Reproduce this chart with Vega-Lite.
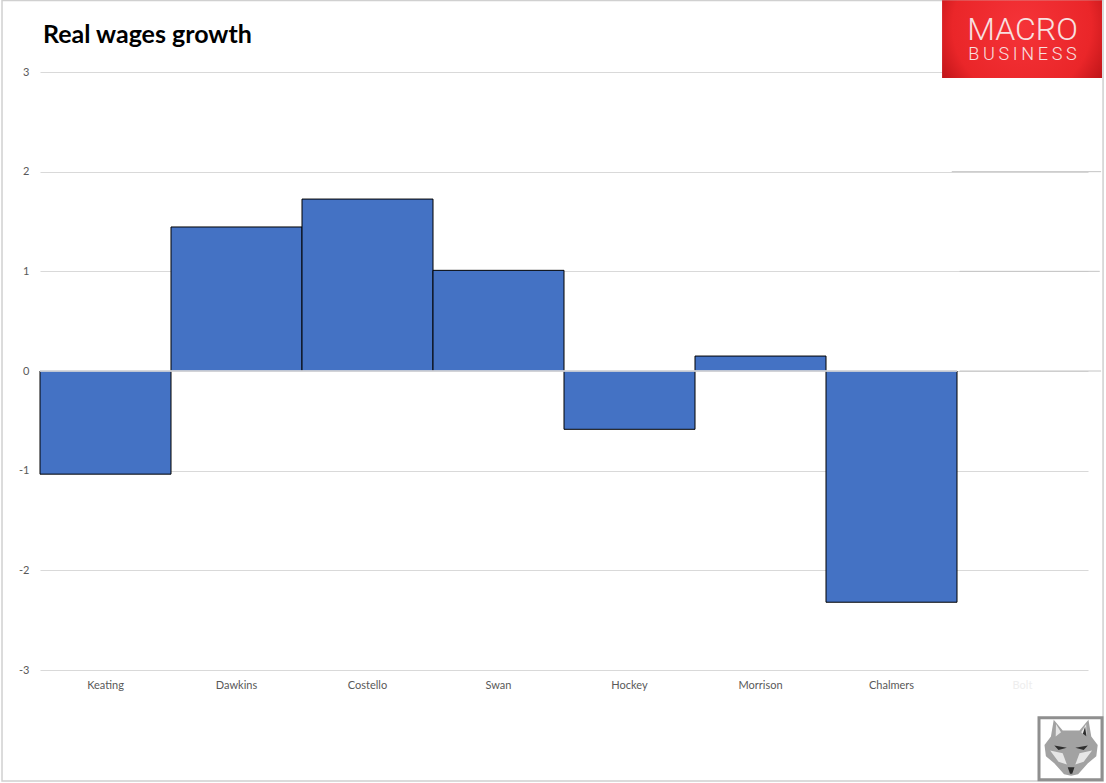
{
"$schema":"https://vega.github.io/schema/vega-lite/v6.json",
"width":1048,"height":598,
"autosize":{"type":"none"},
"padding":{"left":40,"top":72,"right":18,"bottom":113},
"background":"white",
"view":{"stroke":null},
"title":{"text":"Real wages growth","anchor":"start","frame":"group","font":"Lato","fontSize":25,"fontWeight":"bold","color":"#000000","dx":3,"offset":-48},
"resolve":{"scale":{"x":"independent"}},
"layer":[
{"data":{"values":[{"name":"Keating","v":-1.035},{"name":"Dawkins","v":1.445},{"name":"Costello","v":1.725},{"name":"Swan","v":1.01},{"name":"Hockey","v":-0.585},{"name":"Morrison","v":0.15},{"name":"Chalmers","v":-2.32},{"name":"Bolt","v":null}]},
"mark":{"type":"bar","color":"#4472C4","stroke":"#000000","strokeWidth":1},
"encoding":{
"x":{"field":"name","type":"nominal","sort":null,"scale":{"domain":["Keating","Dawkins","Costello","Swan","Hockey","Morrison","Chalmers","Bolt"],"paddingInner":0,"paddingOuter":0},
"axis":{"title":null,"orient":"bottom","offset":0,"labelAngle":0,"domain":false,"ticks":false,"labelFont":"Lato","labelFontSize":11,"labelPadding":9,"labelColor":{"expr":"datum.value==='Bolt'?'#eeeeee':'#595959'"}}},
"y":{"field":"v","type":"quantitative","scale":{"domain":[-3,3],"nice":false,"zero":false},
"axis":{"title":null,"values":[-3,-2,-1,0,1,2,3],"labelExpr":"toString(datum.value)","domain":false,"ticks":false,"labelFont":"Lato","labelFontSize":11,"labelColor":"#595959","labelPadding":11,"grid":true,"gridColor":"#d9d9d9","gridWidth":1,"zindex":0}}
}},
{"data":{"values":[{"from":0,"to":7,"at":0}]},
"mark":{"type":"rule","color":"#f4f6fb","strokeWidth":1.5},
"encoding":{"x":{"field":"from","type":"quantitative","scale":{"domain":[0,8],"nice":false,"zero":false},"axis":null},"x2":{"field":"to"},"y":{"field":"at","type":"quantitative"}}},
{"data":{"values":[{"from":7.02,"to":8.1,"at":0},{"from":7.02,"to":8.09,"at":1},{"from":6.96,"to":8.1,"at":2}]},
"mark":{"type":"rule","color":"#c4c4c4","strokeWidth":1},
"encoding":{"x":{"field":"from","type":"quantitative","scale":{"domain":[0,8],"nice":false,"zero":false},"axis":null},"x2":{"field":"to"},"y":{"field":"at","type":"quantitative"}}},
{"data":{"values":[{"a":-0.29,"b":8.115,"c":3.717,"d":-4.114}]},
"mark":{"type":"rect","fill":null,"stroke":"#d0d0d0","strokeWidth":1.5},
"encoding":{"x":{"field":"a","type":"quantitative","scale":{"domain":[0,8],"nice":false,"zero":false},"axis":null},"x2":{"field":"b"},"y":{"field":"c","type":"quantitative"},"y2":{"field":"d"}}},
{"data":{"values":[{"a":6.886,"b":8.107,"c":3.72,"d":2.94}]},
"mark":{"type":"rect","fill":{"gradient":"radial","x1":0.5,"y1":0.42,"r1":0,"x2":0.5,"y2":0.42,"r2":0.62,"stops":[{"offset":0,"color":"#f53338"},{"offset":0.7,"color":"#ea2629"},{"offset":1,"color":"#b81216"}]}},
"encoding":{"x":{"field":"a","type":"quantitative","scale":{"domain":[0,8],"nice":false,"zero":false},"axis":null},"x2":{"field":"b"},"y":{"field":"c","type":"quantitative"},"y2":{"field":"d"}}},
{"data":{"values":[{"t":"MACRO","a":7.5,"c":3.42}]},
"mark":{"type":"text","font":"Roboto","fontSize":32,"fontWeight":300,"color":"#f8e0e0","align":"center","baseline":"middle"},
"encoding":{"x":{"field":"a","type":"quantitative","scale":{"domain":[0,8],"nice":false,"zero":false},"axis":null},"y":{"field":"c","type":"quantitative"},"text":{"field":"t"}}},
{"data":{"values":[{"t":"B\u2009U\u2009S\u2009I\u2009N\u2009E\u2009S\u2009S","a":7.5,"c":3.17}]},
"mark":{"type":"text","font":"Roboto","fontSize":18,"fontWeight":300,"color":"#f8e0e0","align":"center","baseline":"middle"},
"encoding":{"x":{"field":"a","type":"quantitative","scale":{"domain":[0,8],"nice":false,"zero":false},"axis":null},"y":{"field":"c","type":"quantitative"},"text":{"field":"t"}}},
{"data":{"values":[{"a":7.626,"b":8.107,"c":-3.48,"d":-4.1}]},
"mark":{"type":"rect","fill":"#ffffff","stroke":"#8f8f8f","strokeWidth":3},
"encoding":{"x":{"field":"a","type":"quantitative","scale":{"domain":[0,8],"nice":false,"zero":false},"axis":null},"x2":{"field":"b"},"y":{"field":"c","type":"quantitative"},"y2":{"field":"d"}}},
{"data":{"values":[{"a":7.871,"c":-3.78}]},
"mark":{"type":"point","filled":true,"opacity":1,"size":3136,"color":"#a2a2a2","shape":"M-0.62,-1 L-0.3,-0.62 L0.3,-0.62 L0.62,-1 L0.72,-0.4 L0.95,-0.1 L0.9,0.3 L0.6,0.55 L0.25,0.95 L0,1 L-0.25,0.95 L-0.6,0.55 L-0.9,0.3 L-0.95,-0.1 L-0.72,-0.4 Z"},
"encoding":{"x":{"field":"a","type":"quantitative","scale":{"domain":[0,8],"nice":false,"zero":false},"axis":null},"y":{"field":"c","type":"quantitative"}}},
{"data":{"values":[{"a":7.871,"c":-3.78}]},
"mark":{"type":"point","filled":true,"opacity":1,"size":3136,"color":"#e6e6e6","shape":"M-0.54,-0.85 L-0.36,-0.55 L-0.55,-0.4 Z M0.54,-0.85 L0.36,-0.55 L0.55,-0.4 Z M-0.75,0.1 L-0.3,0.2 L-0.15,0.6 L-0.45,0.5 Z M0.75,0.1 L0.3,0.2 L0.15,0.6 L0.45,0.5 Z"},
"encoding":{"x":{"field":"a","type":"quantitative","scale":{"domain":[0,8],"nice":false,"zero":false},"axis":null},"y":{"field":"c","type":"quantitative"}}},
{"data":{"values":[{"a":7.871,"c":-3.78}]},
"mark":{"type":"point","filled":true,"opacity":1,"size":3136,"color":"#2e2e2e","shape":"M-0.6,-0.08 L-0.15,0 L-0.45,0.08 Z M0.6,-0.08 L0.15,0 L0.45,0.08 Z M-0.12,0.7 L0.12,0.7 L0.04,0.93 L-0.04,0.93 Z M0.5,-0.75 L0.55,-0.4 L0.42,-0.5 Z"},
"encoding":{"x":{"field":"a","type":"quantitative","scale":{"domain":[0,8],"nice":false,"zero":false},"axis":null},"y":{"field":"c","type":"quantitative"}}}
]
}
